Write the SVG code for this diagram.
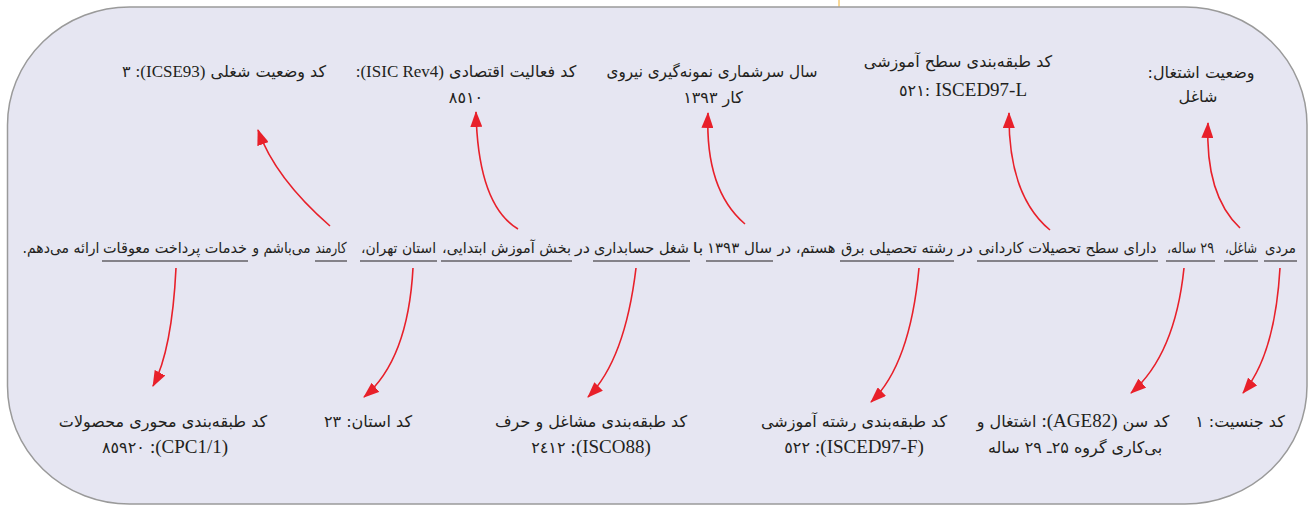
<svg xmlns="http://www.w3.org/2000/svg" width="1314" height="505" viewBox="0 0 1314 505">
<style>
  text { font-family: "DejaVu Sans", sans-serif; font-size: 16px; fill: #231f20; text-anchor: middle; }
  .rtl { direction: rtl; }
  .s { font-size: 15px; }
  .lat { font-family: "Liberation Serif", serif; font-size: 19px; }
  .lat17 { font-family: "Liberation Serif", serif; font-size: 17px; }
  .ul { stroke: #231f20; stroke-width: 1; }
  .arr { fill: none; stroke: #e8202a; stroke-width: 1.6; marker-end: url(#ah); }
</style>
<defs>
  <marker id="ah" markerUnits="userSpaceOnUse" markerWidth="16" markerHeight="12" refX="15" refY="6" orient="auto">
    <path d="M0,0 L16,6 L0,12 z" fill="#e8202a"/>
  </marker>
</defs>
<rect x="0" y="0" width="1314" height="505" fill="#ffffff"/>
<line x1="839" y1="0" x2="839" y2="7" stroke="#f2b233" stroke-width="1"/>
<rect x="7.5" y="7" width="1299.5" height="497" rx="122" ry="118" fill="#e6e6f2" stroke="#9a9a9a" stroke-width="1.5"/>

<g id="sentence">
  <text class="rtl s" x="1280.5" y="253" textLength="31" lengthAdjust="spacingAndGlyphs">مردی</text>
  <text class="rtl s" x="1241" y="253" textLength="32" lengthAdjust="spacingAndGlyphs">شاغل،</text>
  <text class="rtl s" x="1190.5" y="253" textLength="47" lengthAdjust="spacingAndGlyphs">۲۹ ساله،</text>
  <text class="rtl s" x="1067.5" y="253" textLength="178" lengthAdjust="spacingAndGlyphs">دارای سطح تحصیلات کاردانی</text>
  <text class="rtl s" x="965.5" y="253" textLength="15" lengthAdjust="spacingAndGlyphs">در</text>
  <text class="rtl s" x="897" y="253" textLength="112" lengthAdjust="spacingAndGlyphs">رشته تحصیلی برق</text>
  <text class="rtl s" x="806.5" y="253" textLength="58" lengthAdjust="spacingAndGlyphs">هستم، در</text>
  <text class="rtl s" x="739.5" y="253" textLength="65" lengthAdjust="spacingAndGlyphs">سال ۱۳۹۳</text>
  <text class="rtl s" x="698" y="253" textLength="11" lengthAdjust="spacingAndGlyphs">با</text>
  <text class="rtl s" x="641.5" y="253" textLength="95" lengthAdjust="spacingAndGlyphs">شغل حسابداری</text>
  <text class="rtl s" x="582.5" y="253" textLength="15" lengthAdjust="spacingAndGlyphs">در</text>
  <text class="rtl s" x="506.5" y="253" textLength="129" lengthAdjust="spacingAndGlyphs">بخش آموزش ابتدایی،</text>
  <text class="rtl s" x="398.5" y="253" textLength="75" lengthAdjust="spacingAndGlyphs">استان تهران،</text>
  <text class="rtl s" x="331" y="253" textLength="31" lengthAdjust="spacingAndGlyphs">کارمند</text>
  <text class="rtl s" x="281.5" y="253" textLength="58" lengthAdjust="spacingAndGlyphs">می&#8204;باشم و</text>
  <text class="rtl s" x="175" y="253" textLength="144" lengthAdjust="spacingAndGlyphs">خدمات پرداخت معوقات</text>
  <text class="rtl s" x="61" y="253" textLength="77" lengthAdjust="spacingAndGlyphs">ارائه می&#8204;دهم.</text>
  <line class="ul" x1="1264" y1="261" x2="1297" y2="261"/>
  <line class="ul" x1="1224" y1="261" x2="1258" y2="261"/>
  <line class="ul" x1="1166" y1="261" x2="1215" y2="261"/>
  <line class="ul" x1="977" y1="261" x2="1158" y2="261"/>
  <line class="ul" x1="840" y1="261" x2="954" y2="261"/>
  <line class="ul" x1="706" y1="261" x2="773" y2="261"/>
  <line class="ul" x1="593" y1="261" x2="690" y2="261"/>
  <line class="ul" x1="441" y1="261" x2="572" y2="261"/>
  <line class="ul" x1="360" y1="261" x2="437" y2="261"/>
  <line class="ul" x1="315" y1="261" x2="347" y2="261"/>
  <line class="ul" x1="102" y1="261" x2="248" y2="261"/>
</g>

<g id="icse">
  <text x="224" y="77">۳ <tspan class="lat17">:(ICSE93)</tspan> کد وضعیت شغلی</text>
</g>
<g id="isic">
  <text x="466" y="77"><tspan class="lat17">:(ISIC Rev4)</tspan> کد فعالیت اقتصادی</text>
  <text x="466" y="103">٨٥١٠</text>
</g>
<g id="year">
  <text class="rtl" x="712" y="77" textLength="211" lengthAdjust="spacingAndGlyphs">سال سرشماری نمونه&#8204;گیری نیروی</text>
  <text class="rtl" x="713" y="103">کار ۱۳۹۳</text>
</g>
<g id="isced-l">
  <text class="rtl" x="958" y="67">کد طبقه&#8204;بندی سطح آموزشی</text>
  <text x="963" y="96">٥٢١: <tspan class="lat">ISCED97-L</tspan></text>
</g>
<g id="status">
  <text class="rtl" x="1201" y="78">وضعیت اشتغال:</text>
  <text class="rtl" x="1198" y="102">شاغل</text>
</g>

<g id="cpc">
  <text class="rtl" x="163" y="427">کد طبقه&#8204;بندی محوری محصولات</text>
  <text x="165" y="453">٨٥٩٢٠ <tspan class="lat">:(CPC1/1)</tspan></text>
</g>
<g id="province">
  <text class="rtl" x="368" y="427">کد استان: ۲۳</text>
</g>
<g id="isco">
  <text class="rtl" x="591" y="427">کد طبقه&#8204;بندی مشاغل و حرف</text>
  <text x="591" y="453">٢٤١٢ <tspan class="lat">:(ISCO88)</tspan></text>
</g>
<g id="isced-f">
  <text class="rtl" x="854" y="427">کد طبقه&#8204;بندی رشته آموزشی</text>
  <text x="854" y="453">٥٢٢ <tspan class="lat">:(ISCED97-F)</tspan></text>
</g>
<g id="age">
  <text x="1073" y="427">اشتغال و <tspan class="lat">:(AGE82)</tspan> کد سن</text>
  <text class="rtl" x="1075" y="453">بی&#8204;کاری گروه ۲۵ـ ۲۹ ساله</text>
</g>
<g id="gender">
  <text class="rtl" x="1240" y="427">کد جنسیت: ۱</text>
</g>

<g id="connectors">
  <path class="arr" d="M330,226 Q275,178 258,130"/>
  <path class="arr" d="M518,229 Q478,205 476,112"/>
  <path class="arr" d="M745,224 Q705,190 708,113"/>
  <path class="arr" d="M1050,230 Q1008,195 1009,113"/>
  <path class="arr" d="M1240,228 Q1205,195 1208,123"/>
  <path class="arr" d="M176,268 Q172,350 153,386"/>
  <path class="arr" d="M413,268 Q408,360 364,397"/>
  <path class="arr" d="M636,268 Q625,360 588,397"/>
  <path class="arr" d="M919,268 Q910,365 871,402"/>
  <path class="arr" d="M1184,268 Q1175,355 1131,393"/>
  <path class="arr" d="M1280,268 Q1275,355 1243,393"/>
</g>
</svg>
